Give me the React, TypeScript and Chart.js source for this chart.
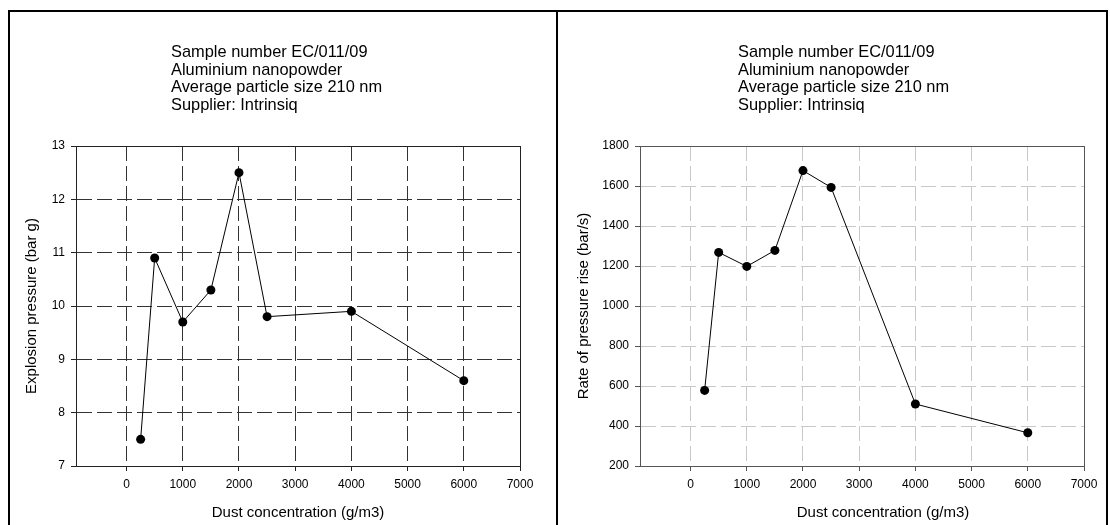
import React, { useEffect, useRef } from "react";
import { Chart, registerables } from "chart.js";

Chart.register(...registerables);

// ---- data ----
const concentrations = [250, 500, 1000, 1500, 2000, 2500, 4000, 6000];
const explosionPressure = [7.5, 10.9, 9.7, 10.3, 12.5, 9.8, 9.9, 8.6];
const rateOfPressureRise = [578, 1268, 1198, 1278, 1677, 1593, 510, 366];

const xTicks = [0, 1000, 2000, 3000, 4000, 5000, 6000, 7000];
const pressureTicks = [7, 8, 9, 10, 11, 12, 13];
const rateTicks = [200, 400, 600, 800, 1000, 1200, 1400, 1600, 1800];

const titleLines = [
  "Sample number EC/011/09",
  "Aluminium nanopowder",
  "Average particle size 210 nm",
  "Supplier: Intrinsiq",
];

const xTitle = "Dust concentration (g/m3)";
const pressureTitle = "Explosion pressure (bar g)";
const rateTitle = "Rate of pressure rise (bar/s)";

const FONT = "'Liberation Sans', Arial, Helvetica, sans-serif";

type PanelOpts = {
  values: number[];
  yTicks: number[];
  yTitle: string;
  gridColor: string;
  axisColor: string;
  yWidth: number;
  padRight: number;
  yTitlePad: number;
  xTitleDx: number;
};

const framePlugin = {
  id: "frame",
  afterDraw(chart: any, _args: any, opts: any) {
    const { ctx, chartArea } = chart;
    ctx.save();
    ctx.strokeStyle = opts.color || "#000";
    ctx.lineWidth = 1;
    ctx.setLineDash([]);
    ctx.beginPath();
    ctx.moveTo(chartArea.left, Math.round(chartArea.top) + 0.5);
    ctx.lineTo(chartArea.right, Math.round(chartArea.top) + 0.5);
    ctx.moveTo(Math.round(chartArea.right) + 0.5, chartArea.top);
    ctx.lineTo(Math.round(chartArea.right) + 0.5, chartArea.bottom);
    ctx.stroke();
    ctx.restore();
  },
};

const xTitlePlugin = {
  id: "xTitleText",
  afterDraw(chart: any, _args: any, opts: any) {
    const { ctx, chartArea } = chart;
    ctx.save();
    ctx.fillStyle = "#000";
    ctx.font = `15px ${FONT}`;
    ctx.textAlign = "center";
    ctx.textBaseline = "middle";
    ctx.fillText(opts.text, (chartArea.left + chartArea.right) / 2 + (opts.dx || 0), opts.y);
    ctx.restore();
  },
};

function makeConfig(p: PanelOpts): any {
  const points = concentrations.map((x, i) => ({ x, y: p.values[i] }));
  return {
    type: "line",
    data: {
      datasets: [
        {
          data: points,
          borderColor: "#000",
          borderWidth: 1,
          backgroundColor: "#000",
          pointBackgroundColor: "#000",
          pointBorderColor: "#000",
          pointRadius: 4.5,
          pointBorderWidth: 0,
          tension: 0,
          fill: false,
        },
      ],
    },
    options: {
      responsive: false,
      animation: false,
      events: [],
      layout: { padding: { top: 134, right: p.padRight, left: 0, bottom: 0 } },
      plugins: {
        legend: { display: false },
        tooltip: { enabled: false },
        title: { display: false },
        frame: { color: p.axisColor },
        xTitleText: { text: xTitle, dx: p.xTitleDx, y: 500.5 },
      },
      scales: {
        x: {
          type: "linear",
          min: -900,
          max: 7000,
          afterBuildTicks: (s: any) => {
            s.ticks = xTicks.map((v) => ({ value: v }));
          },
          afterFit: (s: any) => {
            s.height = 59;
          },
          ticks: {
            color: "#000",
            font: { family: FONT, size: 12 },
            padding: 6,
            maxRotation: 0,
            autoSkip: false,
            callback: (v: any) => String(v),
          },
          grid: {
            color: p.gridColor,
            lineWidth: 1,
            drawTicks: true,
            tickLength: 5,
            tickColor: p.axisColor,
            tickBorderDash: [],
          },
          border: { display: true, color: p.axisColor, width: 1, dash: [15, 5] },
          title: { display: false },
        },
        y: {
          type: "linear",
          min: p.yTicks[0],
          max: p.yTicks[p.yTicks.length - 1],
          afterBuildTicks: (s: any) => {
            s.ticks = p.yTicks.map((v) => ({ value: v }));
          },
          afterFit: (s: any) => {
            s.width = p.yWidth;
          },
          ticks: {
            color: "#000",
            font: { family: FONT, size: 12 },
            padding: 6,
            autoSkip: false,
            callback: (v: any) => String(v),
          },
          grid: {
            color: p.gridColor,
            lineWidth: 1,
            drawTicks: true,
            tickLength: 5,
            tickColor: p.axisColor,
            tickBorderDash: [],
          },
          border: { display: true, color: p.axisColor, width: 1, dash: [15, 5] },
          title: {
            display: true,
            text: p.yTitle,
            color: "#000",
            font: { family: FONT, size: 15, lineHeight: 1.2 },
            padding: { top: p.yTitlePad, bottom: 0 },
          },
        },
      },
    },
    plugins: [framePlugin, xTitlePlugin],
  };
}

function Panel(props: {
  left: number;
  width: number;
  titleLeft: number;
  opts: PanelOpts;
}) {
  const ref = useRef<HTMLCanvasElement | null>(null);
  useEffect(() => {
    if (!ref.current) return;
    const chart = new Chart(ref.current, makeConfig(props.opts));
    return () => chart.destroy();
  }, []);
  return (
    <>
      <canvas
        ref={ref}
        width={props.width}
        height={513}
        style={{ position: "absolute", left: props.left, top: 12, width: props.width, height: 513 }}
      />
      <div
        style={{
          position: "absolute",
          left: props.titleLeft,
          top: 43,
          fontFamily: FONT,
          fontSize: 16.4,
          lineHeight: "17.5px",
          color: "#000",
          whiteSpace: "pre",
        }}
      >
        {titleLines.join("\n")}
      </div>
    </>
  );
}

export default function App() {
  return (
    <div
      style={{
        position: "fixed",
        left: 0,
        top: 0,
        width: 1110,
        height: 525,
        background: "#fff",
        overflow: "hidden",
      }}
    >
      <div
        style={{
          position: "absolute",
          left: 8,
          top: 10,
          width: 546,
          height: 540,
          border: "2px solid #000",
        }}
      />
      <div
        style={{
          position: "absolute",
          left: 556,
          top: 10,
          width: 548,
          height: 540,
          border: "2px solid #000",
        }}
      />
      <Panel
        left={10}
        width={546}
        titleLeft={171}
        opts={{
          values: explosionPressure,
          yTicks: pressureTicks,
          yTitle: pressureTitle,
          gridColor: "#333",
          axisColor: "#222",
          yWidth: 66,
          padRight: 36,
          yTitlePad: 13,
          xTitleDx: 0,
        }}
      />
      <Panel
        left={558}
        width={548}
        titleLeft={738}
        opts={{
          values: rateOfPressureRise,
          yTicks: rateTicks,
          yTitle: rateTitle,
          gridColor: "#c8c8c8",
          axisColor: "#555",
          yWidth: 82,
          padRight: 22,
          yTitlePad: 17,
          xTitleDx: 21,
        }}
      />
    </div>
  );
}
